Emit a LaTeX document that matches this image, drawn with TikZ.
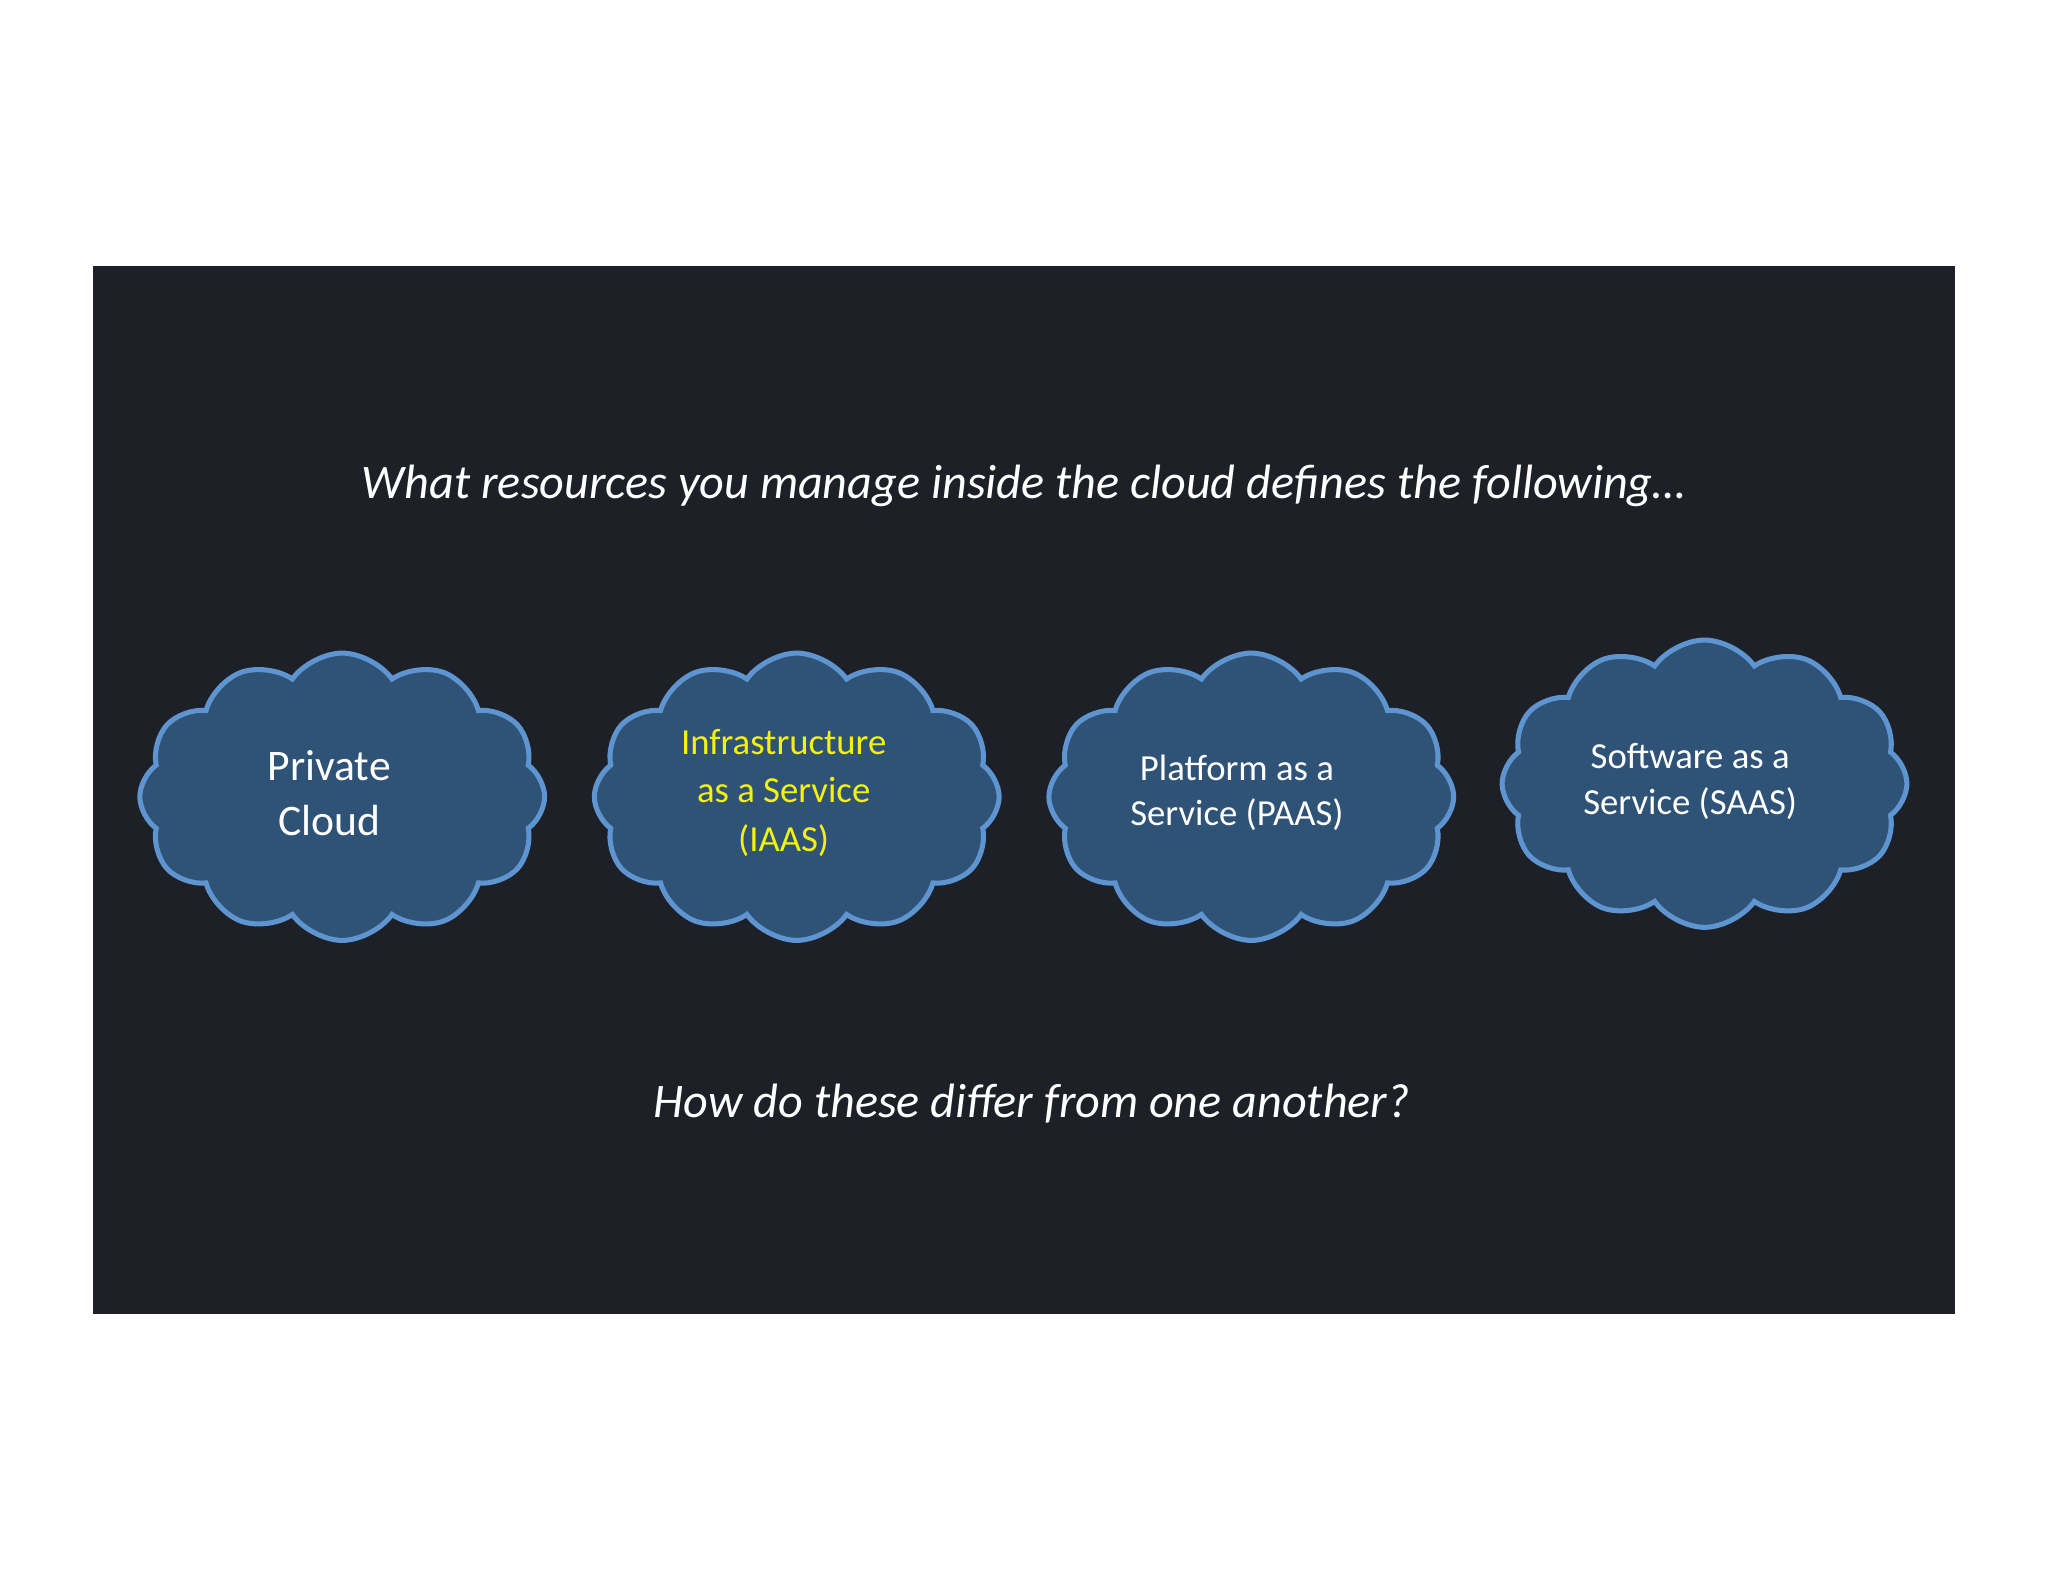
\documentclass[tikz,border=0pt]{standalone}
\usepackage{fontspec}
\setmainfont{Carlito}
\usetikzlibrary{shapes.symbols}
\definecolor{bgdark}{HTML}{1E2028}
\definecolor{cloudfill}{HTML}{2F5277}
\definecolor{cloudedge}{HTML}{5E95D0}
\definecolor{ylw}{HTML}{F2F20A}
\begin{document}
\begin{tikzpicture}[x=0.02cm,y=-0.02cm,
  cloudbox/.style={cloud, cloud puffs=12, cloud puff arc=110, aspect=1.45, draw=cloudedge, line width=2.2pt, fill=cloudfill, minimum width=6.2cm, minimum height=4.4cm, inner sep=0pt},
  cloudtext/.style={text=white, align=center, font=\fontsize{16}{20}\selectfont}]
\useasboundingbox (0,0) rectangle (1568,1211);
\fill[white] (0,0) rectangle (1568,1211);
\fill[bgdark] (71,204) rectangle (1497,1006);
\node[text=white, font=\fontsize{21}{25}\selectfont\itshape] (title) at (784,372) {What resources you manage inside the cloud defines the following…};
\node[text=white, font=\fontsize{21}{25}\selectfont\itshape] (question) at (790,845) {How do these differ from one another?};
\node[cloudbox] (c1) at (262,610) {};
\node[cloudbox] (c2) at (610,610) {};
\node[cloudbox] (c3) at (958,610) {};
\node[cloudbox] (c4) at (1305,600) {};
\node[cloudtext, font=\fontsize{19}{24}\selectfont] (t1) at (252,607) {Private\\Cloud};
\node[cloudtext, text=ylw, font=\fontsize{16}{21}\selectfont] (t2) at (600,607) {Infrastructure\\as a Service\\(IAAS)};
\node[cloudtext] (t3) at (947,607) {Platform as a\\Service (PAAS)};
\node[cloudtext] (t4) at (1294,598) {Software as a\\Service (SAAS)};
\end{tikzpicture}
\end{document}
